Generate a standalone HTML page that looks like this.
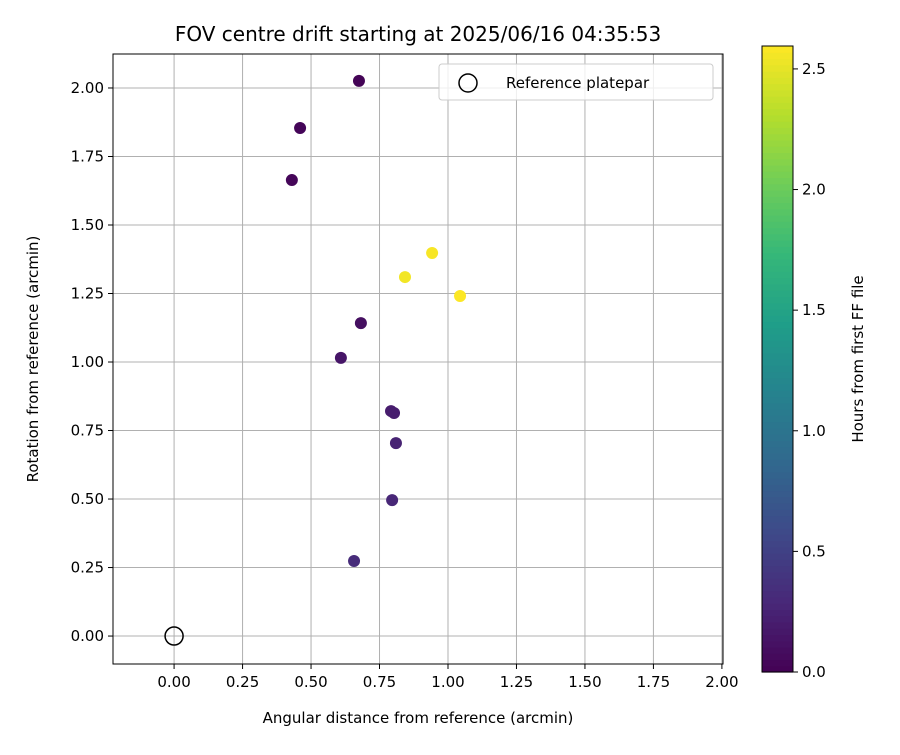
<!DOCTYPE html>
<html><head><meta charset="utf-8"><style>body{margin:0;background:#fff}svg{font-family:"DejaVu Sans","Liberation Sans",sans-serif}</style></head>
<body>
<svg id="c" width="900" height="750" xmlns="http://www.w3.org/2000/svg"></svg>
<script>
const xVals=[0.675,0.46,0.43,0.942,0.843,1.044,0.682,0.609,0.792,0.803,0.81,0.796,0.657];
const yVals=[2.026,1.854,1.664,1.398,1.31,1.241,1.142,1.015,0.821,0.814,0.704,0.496,0.274];
const hours=[0.02,0.03,0.04,2.57,2.55,2.59,0.1,0.15,0.2,0.21,0.25,0.28,0.32];
const xTicks=[0,0.25,0.5,0.75,1,1.25,1.5,1.75,2];
const yTicks=[0,0.25,0.5,0.75,1,1.25,1.5,1.75,2];
const cTicks=[0,0.5,1,1.5,2,2.5];
const L=113,R=723,T=54,B=664;
const xMin=-0.223,xMax=2.004,yMin=-0.102,yMax=2.124,cMax=2.595;
const sx=v=>L+(v-xMin)/(xMax-xMin)*(R-L);
const sy=v=>B-(v-yMin)/(yMax-yMin)*(B-T);
const CT=46,CB=672,CL=762,CR=793;
const sc=v=>CB-v/cMax*(CB-CT);
const vir=[[68,1,84],[72,40,120],[62,73,137],[49,104,142],[38,130,142],[31,158,137],[53,183,121],[109,205,89],[180,222,44],[253,231,37]];
function cmap(t){t=Math.max(0,Math.min(1,t))*(vir.length-1);const i=Math.min(Math.floor(t),vir.length-2),f=t-i;const a=vir[i],b=vir[i+1];return `rgb(${a.map((v,k)=>Math.round(v+(b[k]-v)*f)).join(',')})`;}
const s=document.getElementById('c');const NS='http://www.w3.org/2000/svg';
function el(tag,at,txt){const e=document.createElementNS(NS,tag);for(const k in at)e.setAttribute(k,at[k]);if(txt!==undefined)e.textContent=txt;s.appendChild(e);return e;}
let e;
xTicks.forEach(v=>{e=el('line',{x1:sx(v),x2:sx(v),y1:T,y2:B,stroke:'#b0b0b0','stroke-width':1});

e=el('line',{x1:sx(v),x2:sx(v),y1:B,y2:B+5,stroke:'#000'});

e=el('text',{x:sx(v),y:B+23,'text-anchor':'middle','font-size':15},v.toFixed(2));
});
yTicks.forEach(v=>{e=el('line',{x1:L,x2:R,y1:sy(v),y2:sy(v),stroke:'#b0b0b0','stroke-width':1});

e=el('line',{x1:L-5,x2:L,y1:sy(v),y2:sy(v),stroke:'#000'});

e=el('text',{x:L-9,y:sy(v)+5,'text-anchor':'end','font-size':15},v.toFixed(2));
});
e=el('rect',{x:L,y:T,width:R-L,height:B-T,fill:'none',stroke:'#000'});

e=el('circle',{cx:sx(0),cy:sy(0),r:9,fill:'none',stroke:'#000','stroke-width':1.5});

xVals.forEach((v,i)=>{e=el('circle',{cx:sx(v),cy:sy(yVals[i]),r:6,fill:cmap(hours[i]/cMax)});
});
e=el('rect',{x:439,y:64,width:274,height:36,rx:3,fill:'#fff','fill-opacity':0.8,stroke:'#ccc'});

e=el('circle',{cx:468,cy:83,r:9,fill:'none',stroke:'#000','stroke-width':1.5});

e=el('text',{x:506,y:88,'font-size':15},'Reference platepar');

e=el('text',{x:418,y:41,'text-anchor':'middle','font-size':20},'FOV centre drift starting at 2025/06/16 04:35:53');

e=el('text',{x:418,y:723,'text-anchor':'middle','font-size':15},'Angular distance from reference (arcmin)');

e=el('text',{x:38,y:359,'text-anchor':'middle','font-size':15,transform:'rotate(-90 38 359)'},'Rotation from reference (arcmin)');

const N=100;for(let i=0;i<N;i++){e=el('rect',{x:CL,y:CT+(CB-CT)*(N-1-i)/N,width:CR-CL,height:(CB-CT)/N+0.6,fill:cmap((i+0.5)/N)});
}
e=el('rect',{x:CL,y:CT,width:CR-CL,height:CB-CT,fill:'none',stroke:'#000'});

cTicks.forEach(v=>{e=el('line',{x1:CR,x2:CR+5,y1:sc(v),y2:sc(v),stroke:'#000'});

e=el('text',{x:CR+9,y:sc(v)+5,'font-size':15},v.toFixed(1));
});
e=el('text',{x:863,y:359,'text-anchor':'middle','font-size':15,transform:'rotate(-90 863 359)'},'Hours from first FF file');

</script>
</body></html>
